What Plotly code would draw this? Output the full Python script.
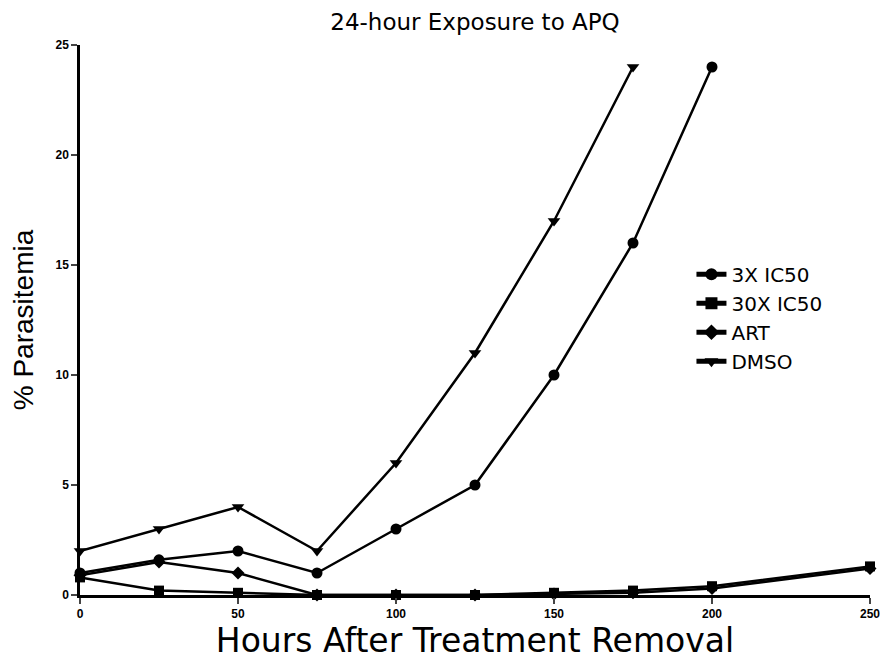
import plotly.graph_objects as go

x_3x = [0, 25, 50, 75, 100, 125, 150, 175, 200]
y_3x = [1.0, 1.6, 2.0, 1.0, 3.0, 5.0, 10.0, 16.0, 24.0]

x_30x = [0, 25, 50, 75, 100, 125, 150, 175, 200, 250]
y_30x = [0.8, 0.2, 0.1, 0.0, 0.0, 0.0, 0.1, 0.2, 0.4, 1.3]

x_art = [0, 25, 50, 75, 100, 125, 150, 175, 200, 250]
y_art = [0.9, 1.5, 1.0, 0.0, 0.0, 0.0, 0.05, 0.1, 0.3, 1.2]

x_dmso = [0, 25, 50, 75, 100, 125, 150, 175]
y_dmso = [2.0, 3.0, 4.0, 2.0, 6.0, 11.0, 17.0, 24.0]

x_ticks = [0, 50, 100, 150, 200, 250]
y_ticks = [0, 5, 10, 15, 20, 25]

series = [
    ("3X IC50", x_3x, y_3x, "circle", 11),
    ("30X IC50", x_30x, y_30x, "square", 10),
    ("ART", x_art, y_art, "diamond", 10),
    ("DMSO", x_dmso, y_dmso, "triangle-down", 11),
]

WIDE = "DejaVu Sans, Verdana, sans-serif"
ARIAL = "Liberation Sans, Arial, sans-serif"

fig = go.Figure()
for name, xs, ys, sym, sz in series:
    fig.add_trace(go.Scatter(
        x=xs, y=ys, name=name, mode="lines+markers",
        line=dict(color="black", width=2.5),
        marker=dict(symbol=sym, size=sz, color="black"),
        cliponaxis=False,
    ))

fig.update_layout(
    width=880, height=656,
    paper_bgcolor="white", plot_bgcolor="white",
    font=dict(family=ARIAL, color="black"),
    margin=dict(l=72, r=18, t=37, b=69, autoexpand=False),
    title=dict(text="24-hour Exposure to APQ", xref="paper", x=0.5, xanchor="center",
               y=0.9785, yanchor="middle", font=dict(size=23, family=WIDE)),
    xaxis=dict(range=[0, 250], tickvals=x_ticks,
               showgrid=False, zeroline=False, showline=True, linecolor="black",
               linewidth=2.5, ticks="outside", ticklen=6, tickwidth=2,
               tickfont=dict(size=12, weight="bold"), automargin=False,
               title=dict(text="Hours After Treatment Removal",
                          font=dict(size=33, family=WIDE), standoff=7)),
    yaxis=dict(range=[0, 25], tickvals=y_ticks,
               showgrid=False, zeroline=False, showline=True, linecolor="black",
               linewidth=2.5, ticks="outside", ticklen=6, tickwidth=2,
               tickfont=dict(size=12, weight="bold"), automargin=False,
               title=dict(text="% Parasitemia", font=dict(size=28), standoff=14)),
    legend=dict(x=0.774, y=0.504, xanchor="left", yanchor="middle",
                font=dict(size=20, family=WIDE), bgcolor="rgba(0,0,0,0)",
                tracegroupgap=0, itemsizing="constant"),
    showlegend=True,
)

fig.write_html("out.html")
